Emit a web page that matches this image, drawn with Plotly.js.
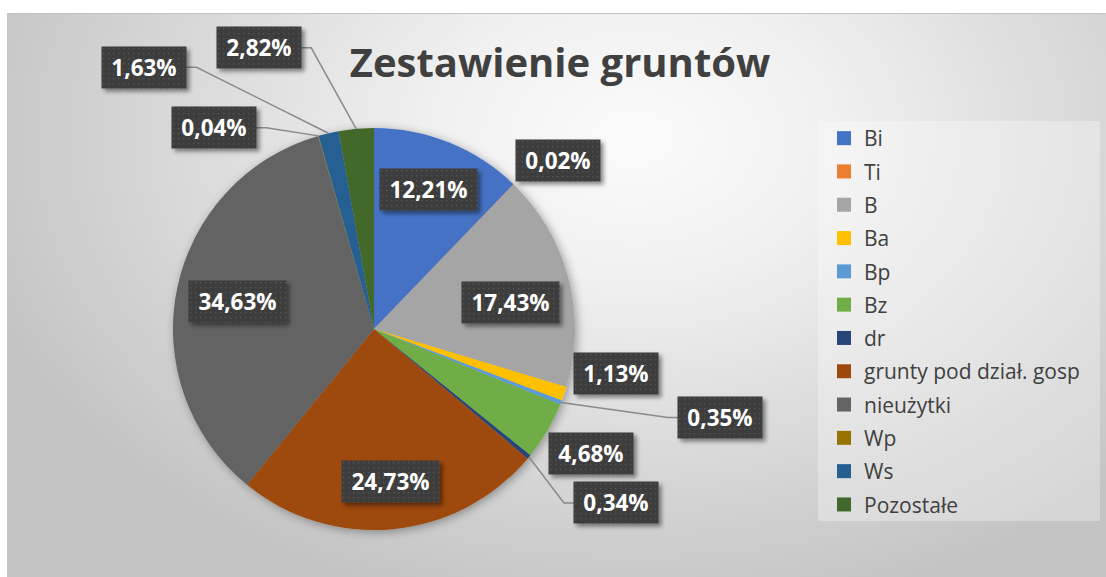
<!DOCTYPE html>
<html><head><meta charset="utf-8">
<script src="https://cdn.plot.ly/plotly-3.0.1.min.js"></script>
<style>
html,body{margin:0;padding:0;background:#fff;}
#wrap{position:relative;width:1106px;height:577px;overflow:hidden;}
#bg{position:absolute;left:7px;top:13px;width:1099px;height:564px;box-sizing:border-box;border-top:1px solid #c4c4c4;border-left:1px solid #c4c4c4;
background:radial-gradient(ellipse 62% 85% at 57% 22%, #fbfbfb 0%, #f0f0f0 30%, #dcdcdc 62%, #c4c4c4 100%);}
#chart{position:absolute;left:0;top:0;width:1106px;height:577px;}
</style></head>
<body>
<svg width="0" height="0" style="position:absolute">
<defs>
<filter id="pieShadow" x="-20%" y="-20%" width="140%" height="140%"><feDropShadow dx="2" dy="2" stdDeviation="5" flood-color="#000" flood-opacity="0.35"/></filter>
<filter id="boxShadow" x="-20%" y="-30%" width="150%" height="170%"><feDropShadow dx="3" dy="3" stdDeviation="2" flood-color="#000" flood-opacity="0.45"/></filter>
<pattern id="dots" width="5" height="5" patternUnits="userSpaceOnUse"><rect width="5" height="5" fill="#3d3d3d"/><rect x="2" y="2" width="1.3" height="1.3" fill="#575757"/></pattern>
</defs></svg>
<div id="wrap"><div id="bg"></div><div id="chart"></div></div>
<script>
// ---- data ----
const labels = ['Bi','Ti','B','Ba','Bp','Bz','dr','grunty pod dział. gosp','nieużytki','Wp','Ws','Pozostałe'];
const values = [12.21,0.02,17.43,1.13,0.35,4.68,0.34,24.73,34.63,0.04,1.63,2.82];
const colors = ['#4472C4','#ED7D31','#A5A5A5','#FFC000','#5B9BD5','#70AD47','#264478','#9E480E','#636363','#997300','#255E91','#43682B'];
const titleText = 'Zestawienie gruntów';

// ---- layout parameters ----
const W = 1106, H = 577;
const CX = 374, CY = 329, R = 201;
const FONT = 'Open Sans, Noto Sans, sans-serif';
const labelOffset = [[-21,47],[44,-24],[-58,24],[52,-20],[159,15],[44,22],[87,46],[-2,-48],[60,13],[-104,-8],[-184,-66],[-97,-81]];
const hasLeader = [false,false,false,false,true,false,true,false,false,true,true,true];
const BOX_H = 41, LEAD_GAP = 10;

const px = x => x / W, py = y => 1 - y / H;

const total = values.reduce((a,b)=>a+b,0);
let cum = 0;
const mids = values.map(v => { const m = (cum + v/2) / total * 2 * Math.PI; cum += v; return m; });

const annotations = [], shapes = [];
values.forEach((v,i) => {
  const t = v.toFixed(2).replace('.', ',') + '%';
  const ex = CX + R*Math.sin(mids[i]), ey = CY - R*Math.cos(mids[i]);
  const bx = ex + labelOffset[i][0], by = ey + labelOffset[i][1];
  const bw = 13*t.length + 19;
  annotations.push({
    xref:'paper', yref:'paper', x:px(bx), y:py(by), xanchor:'center', yanchor:'middle',
    text:t, showarrow:false, width:bw, height:BOX_H, bgcolor:'#3d3d3d', borderpad:0,
    font:{family:FONT, size:22.5, color:'#ffffff', weight:700}
  });
  if (hasLeader[i]) {
    const right = bx > ex;
    const side = right ? bx - bw/2 : bx + bw/2;
    const elbow = right ? side - LEAD_GAP : side + LEAD_GAP;
    shapes.push({
      type:'path', xref:'paper', yref:'paper', layer:'above',
      path:`M${px(ex)},${py(ey)} L${px(elbow)},${py(by)} L${px(side)},${py(by)}`,
      line:{color:'#8a8a8a', width:1.5}
    });
  }
});

shapes.unshift({type:'rect', xref:'paper', yref:'paper', layer:'below',
  x0:px(818), x1:px(1100), y0:py(521), y1:py(121),
  fillcolor:'rgba(255,255,255,0.3)', line:{width:0}});

const pie = {
  type:'pie', labels:labels, values:values, sort:false, direction:'clockwise', rotation:0,
  marker:{colors:colors, line:{width:0}}, textinfo:'none', hoverinfo:'label+percent',
  showlegend:false,
  domain:{x:[px(CX-R), px(CX+R)], y:[py(CY+R), py(CY-R)]}
};

// legend entries (one per slice, same labels & colours)
const legendTraces = labels.map((l,i) => ({
  type:'scatter', mode:'markers', x:[null], y:[null], name:l, legendgroup:'g'+i,
  marker:{symbol:'square', size:14, color:colors[i]}, showlegend:true, hoverinfo:'skip'
}));

const layout = {
  width:W, height:H, margin:{l:0,r:0,t:0,b:0},
  paper_bgcolor:'rgba(0,0,0,0)', plot_bgcolor:'rgba(0,0,0,0)',
  xaxis:{visible:false}, yaxis:{visible:false},
  title:{text:titleText, x:px(560), xanchor:'center', y:py(63), yanchor:'middle',
    font:{family:FONT, size:40, color:'#404040', weight:700}},
  showlegend:true,
  legend:{x:px(824), xanchor:'left', y:py(118), yanchor:'top', bgcolor:'rgba(0,0,0,0)',
    traceorder:'grouped', tracegroupgap:3,
    font:{family:FONT, size:21, color:'#404040'}},
  annotations:annotations, shapes:shapes
};

Plotly.newPlot('chart', [pie].concat(legendTraces), layout, {displayModeBar:false, staticPlot:true}).then(gd => {
  gd.querySelectorAll('.pielayer').forEach(g => g.setAttribute('filter','url(#pieShadow)'));
  gd.querySelectorAll('.annotation rect.bg').forEach(r => {
    r.style.fill = 'url(#dots)';
    r.setAttribute('filter','url(#boxShadow)');
  });
});
</script>
</body></html>
